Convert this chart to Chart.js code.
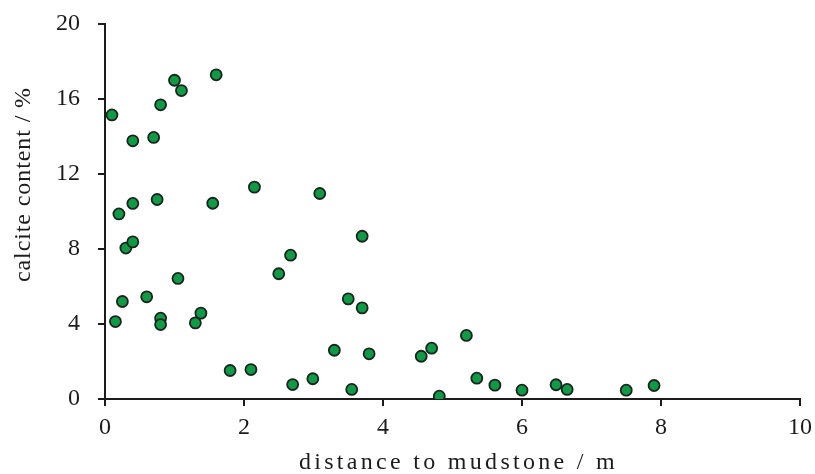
<!DOCTYPE html>
<html>
<head>
<meta charset="utf-8">
<title>calcite content vs distance to mudstone</title>
<script src="https://cdn.jsdelivr.net/npm/chart.js@4.4.1/dist/chart.umd.min.js"></script>
<style>
    html, body { margin: 0; padding: 0; background: #ffffff; }
    #chartBox { width: 815px; height: 474px; position: relative; }
</style>
</head>
<body>
<div id="chartBox"><canvas id="calciteChart"></canvas></div>
<script>
// distance to mudstone (m) and calcite content (%) for each sample
const distances = [0.1, 0.15, 0.2, 0.25, 0.3, 0.4, 0.4, 0.4, 0.6, 0.7, 0.75, 0.8, 0.8, 0.8,
    1.0, 1.1, 1.05, 1.3, 1.38, 1.55, 1.6, 1.8, 2.1, 2.15, 2.5, 2.67, 2.7, 3.09, 3.7, 3.5,
    3.7, 3.3, 3.8, 2.99, 3.55, 4.55, 4.7, 4.81, 5.2, 5.35, 5.61, 6.0, 6.49, 6.65, 7.5, 7.9];
const calcite = [15.15, 4.13, 9.87, 5.2, 8.05, 8.38, 13.77, 10.43, 5.45, 13.95, 10.64, 15.69, 4.31, 3.97,
    17.0, 16.45, 6.43, 4.06, 4.58, 10.44, 17.29, 1.52, 1.57, 11.3, 6.68, 7.67, 0.77, 10.96, 8.68, 5.34,
    4.86, 2.6, 2.41, 1.08, 0.51, 2.28, 2.71, 0.15, 3.39, 1.11, 0.74, 0.47, 0.76, 0.51, 0.47, 0.72];

const xTicks = [0, 2, 4, 6, 8, 10];
const yTicks = [0, 4, 8, 12, 16, 20];
const xTitle = 'distance to mudstone / m';
const yTitle = 'calcite content / %';

const serif = '"Liberation Serif", "Times New Roman", serif';
const inkColor = '#1c1c1c';

// axis titles are drawn by hand so they can get the wide letter spacing of the original
const axisTitles = {
    id: 'axisTitles',
    afterDraw(chart) {
        const ctx = chart.ctx;
        const area = chart.chartArea;
        ctx.save();
        ctx.font = '24px ' + serif;
        ctx.fillStyle = inkColor;
        ctx.textAlign = 'center';
        ctx.textBaseline = 'middle';

        ctx.letterSpacing = '3.3px';
        ctx.fillText(xTitle, (area.left + area.right) / 2 + 6, 463);

        ctx.letterSpacing = '0.9px';
        ctx.translate(24, (area.top + area.bottom) / 2 - 27);
        ctx.rotate(-Math.PI / 2);
        ctx.fillText(yTitle, 0, 0);
        ctx.restore();
    }
};

function initCalciteChart() {
    const points = distances.map((d, i) => ({ x: d, y: calcite[i] }));
    const ctx = document.getElementById('calciteChart').getContext('2d');

    new Chart(ctx, {
        type: 'scatter',
        data: {
            datasets: [{
                label: 'calcite',
                data: points,
                backgroundColor: '#0f9a46',
                borderColor: '#1b241e',
                borderWidth: 1.8,
                pointRadius: 5.5,
                pointHoverRadius: 5.5,
            }],
        },
        plugins: [axisTitles],
        options: {
            responsive: true,
            maintainAspectRatio: false,
            animation: false,
            layout: {
                padding: { top: 24, right: 15, bottom: 0, left: 0 },
            },
            plugins: {
                legend: { display: false },
                tooltip: { enabled: false },
            },
            scales: {
                x: {
                    type: 'linear',
                    min: 0,
                    max: 10,
                    afterBuildTicks: (scale) => { scale.ticks = xTicks.map(v => ({ value: v })); },
                    // fixed height, and no extra room asked for the end labels
                    afterFit: (scale) => {
                        scale.height = 75;
                        scale.paddingLeft = 0;
                        scale.paddingRight = 0;
                    },
                    border: { display: true, color: inkColor, width: 2 },
                    grid: {
                        drawOnChartArea: false,
                        drawTicks: true,
                        tickLength: 7,
                        color: inkColor,
                        lineWidth: 2,
                    },
                    ticks: {
                        color: inkColor,
                        padding: 7,
                        maxRotation: 0,
                        font: { family: serif, size: 24 },
                    },
                },
                y: {
                    type: 'linear',
                    min: 0,
                    max: 20,
                    afterBuildTicks: (scale) => { scale.ticks = yTicks.map(v => ({ value: v })); },
                    afterFit: (scale) => {
                        scale.width = 105;
                        scale.paddingTop = 0;
                        scale.paddingBottom = 0;
                    },
                    border: { display: true, color: inkColor, width: 2 },
                    grid: {
                        drawOnChartArea: false,
                        drawTicks: true,
                        tickLength: 7,
                        color: inkColor,
                        lineWidth: 2,
                    },
                    ticks: {
                        color: inkColor,
                        padding: 18,
                        font: { family: serif, size: 24 },
                    },
                },
            },
        },
    });
}

initCalciteChart();
</script>
</body>
</html>
